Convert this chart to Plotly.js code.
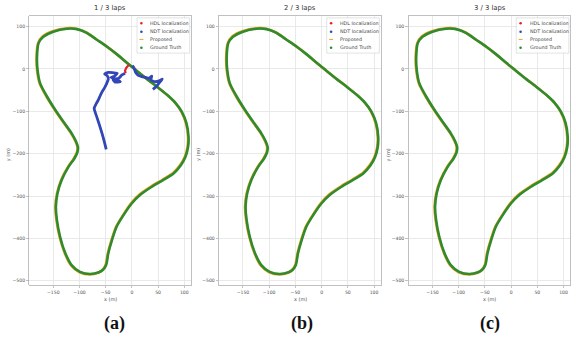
<!DOCTYPE html>
<html>
<head>
<meta charset="utf-8">
<script src="https://cdn.plot.ly/plotly-3.0.1.min.js"></script>
<style>html,body{margin:0;padding:0;background:#fff;}#chart{width:576px;height:337px;}</style>
</head>
<body>
<div id="chart"></div>
<script>
// Ground truth track (m)
const gtX = [-124,-105,-86,-67,-48,-29,-10,9,29,48,67,83,95,104,108,107,102,93,80,60,38,16,0,-16,-29,-38,-45,-49,-55,-63,-80,-99,-115,-127,-137,-143,-145,-142,-134,-121,-110,-104,-103,-107,-115,-131,-146,-162,-175,-180,-181,-178,-169,-150,-124];
const gtY = [95,94,85,69,53,35,15,-4,-24,-42,-61,-80,-101,-128,-160,-185,-208,-228,-246,-262,-278,-297,-317,-345,-372,-404,-435,-462,-474,-480,-484,-479,-463,-435,-396,-357,-325,-294,-262,-231,-212,-197,-184,-170,-152,-124,-97,-65,-34,-2,29,61,76,88,95];
// Proposed estimate (m), nearly on top of ground truth
const prX = [-124,-106,-87,-68,-49,-30,-11,8,28,47,66,82,94,103,107,106,101,92,79,59,37,15,-1,-17,-30,-39,-46,-50,-56,-64,-80,-100,-116,-128,-138,-144,-146,-143,-135,-122,-111,-105,-104,-108,-116,-132,-147,-163,-176,-181,-182,-179,-170,-151,-124];
const prY = [96,95,86,70,54,36,16,-3,-23,-41,-60,-79,-100,-128,-160,-185,-207,-227,-245,-261,-277,-296,-316,-345,-372,-404,-435,-462,-474,-481,-485,-480,-464,-435,-396,-357,-325,-294,-262,-231,-212,-197,-184,-170,-152,-124,-97,-65,-34,-2,29,61,77,89,96];
// NDT localization, lap 1 (m)
const ndtX = [-49,-53,-57,-62,-67,-72,-68,-64,-60,-57,-52,-48,-45,-47,-52,-45,-35,-28,-33,-40,-30,-22,-32,-36,-25,-19,-13,null,1,4,7,12,19,26,32,38,36,44,52,58,52,46,40];
const ndtY = [-190,-170,-152,-132,-113,-93,-82,-73,-62,-54,-44,-34,-24,-16,-12,-8,-9,-10,-17,-20,-25,-30,-31,-25,-22,-14,-10,null,8,2,-8,-15,-18,-20,-22,-17,-26,-30,-28,-24,-33,-42,-48];
// HDL localization, lap 1 (m)
const hdlX = [-12,-13,-11,-8,-5];
const hdlY = [-10,-4,2,7,9];

const titles = ['1 / 3 laps','2 / 3 laps','3 / 3 laps'];
const panelLetters = ['(a)','(b)','(c)'];
const legendNames = ['HDL localization','NDT localization','Proposed','Ground Truth'];
const legendColors = ['#e3222b','#3346b5','#f4a320','#2e8b2e'];

const xTicks = [-150,-100,-50,0,50,100];
const yTicks = [-500,-400,-300,-200,-100,0,100];

const W = 576, H = 337;
const plotLeftPx = [29.3, 219, 408.5];
const plotW = 162;
const plotTopPx = 16, plotBotPx = 285;

const traces = [];
const layout = {
  width: W, height: H,
  margin: {l:0,r:0,t:0,b:0},
  paper_bgcolor: '#fff', plot_bgcolor: '#fff',
  showlegend: false,
  annotations: [], shapes: [],
  font: {family: 'DejaVu Sans', color: '#555'}
};

for (let i = 0; i < 3; i++) {
  const sx = i === 0 ? '' : String(i+1);
  const xa = 'x' + sx, ya = 'y' + sx;
  const d0 = plotLeftPx[i] / W, d1 = (plotLeftPx[i] + plotW) / W;
  const axCommon = {
    showgrid: true, gridcolor: '#e4e4e4', gridwidth: 0.8,
    showline: true, linecolor: '#b0b0b0', linewidth: 0.8, mirror: true,
    ticks: 'outside', ticklen: 2.5, tickcolor: '#999', tickwidth: 0.6,
    tickfont: {size: 4.6, color: '#555', family: 'DejaVu Sans'},
    zeroline: false, fixedrange: true
  };
  layout['xaxis' + sx] = Object.assign({}, axCommon, {
    domain: [d0, d1], range: [-195.7, 113.3], anchor: ya,
    tickvals: xTicks, ticktext: xTicks.map(v => (v < 0 ? '\u2212' + (-v) : String(v)))
  });
  layout['yaxis' + sx] = Object.assign({}, axCommon, {
    domain: [1 - plotBotPx / H, 1 - plotTopPx / H], range: [-510, 125], anchor: xa,
    tickvals: yTicks, ticktext: yTicks.map(v => (v < 0 ? '\u2212' + (-v) : String(v)))
  });

  traces.push({x: prX, y: prY, xaxis: xa, yaxis: ya, mode: 'lines', type: 'scatter',
    line: {color: legendColors[2], width: 2.6, shape: 'spline', smoothing: 0.8}, hoverinfo: 'skip'});
  traces.push({x: gtX, y: gtY, xaxis: xa, yaxis: ya, mode: 'lines', type: 'scatter',
    line: {color: legendColors[3], width: 2.6, shape: 'spline', smoothing: 0.8}, hoverinfo: 'skip'});
  if (i === 0) {
    traces.push({x: ndtX, y: ndtY, xaxis: xa, yaxis: ya, mode: 'lines', type: 'scatter',
      line: {color: legendColors[1], width: 2.8, shape: 'spline', smoothing: 0.5}, connectgaps: false, hoverinfo: 'skip'});
    traces.push({x: hdlX, y: hdlY, xaxis: xa, yaxis: ya, mode: 'lines', type: 'scatter',
      line: {color: legendColors[0], width: 2.2}, hoverinfo: 'skip'});
  }

  const cx = (plotLeftPx[i] + plotW / 2) / W;
  layout.annotations.push({text: titles[i], xref: 'paper', yref: 'paper', x: cx, y: 1 - 7.5 / H,
    showarrow: false, xanchor: 'center', yanchor: 'middle', font: {size: 6.8, color: '#333', family: 'DejaVu Sans'}});
  layout.annotations.push({text: 'x (m)', xref: 'paper', yref: 'paper', x: cx, y: 1 - 299 / H,
    showarrow: false, xanchor: 'center', yanchor: 'middle', font: {size: 5, color: '#555', family: 'DejaVu Sans'}});
  layout.annotations.push({text: 'y (m)', xref: 'paper', yref: 'paper', x: (plotLeftPx[i] - 21) / W, y: 1 - 155 / H,
    showarrow: false, xanchor: 'center', yanchor: 'middle', textangle: -90, font: {size: 5, color: '#555', family: 'DejaVu Sans'}});
  layout.annotations.push({text: '<b>' + panelLetters[i] + '</b>', xref: 'paper', yref: 'paper',
    x: (114 + i * 188) / W, y: 1 - 323 / H, showarrow: false, xanchor: 'center', yanchor: 'middle',
    font: {size: 18, color: '#111', family: 'Liberation Serif'}});

  const xd = xa + ' domain', yd = ya + ' domain';
  layout.shapes.push({type: 'rect', xref: xd, yref: yd, x0: 0.665, x1: 0.99, y0: 0.862, y1: 0.993,
    line: {color: '#d0d0d0', width: 0.6}, fillcolor: 'rgba(255,255,255,0.85)', layer: 'above'});
  const rowY = [0.973, 0.9416, 0.913, 0.882];
  for (let k = 0; k < 4; k++) {
    if (k === 2) {
      layout.shapes.push({type: 'line', xref: xd, yref: yd, xsizemode: 'pixel', xanchor: 0.692,
        x0: -2, x1: 2, y0: rowY[k], y1: rowY[k], line: {color: legendColors[k], width: 1}, layer: 'above'});
    } else {
      layout.shapes.push({type: 'circle', xref: xd, yref: yd, xsizemode: 'pixel', ysizemode: 'pixel',
        xanchor: 0.692, yanchor: rowY[k], x0: -1.3, x1: 1.3, y0: -1.3, y1: 1.3,
        fillcolor: legendColors[k], line: {width: 0}, layer: 'above'});
    }
    layout.annotations.push({text: legendNames[k], xref: xd, yref: yd, x: 0.735, y: rowY[k],
      showarrow: false, xanchor: 'left', yanchor: 'middle', font: {size: 4.8, color: '#444', family: 'DejaVu Sans'}});
  }
}

Plotly.newPlot('chart', traces, layout, {displayModeBar: false, staticPlot: true});
</script>
</body>
</html>
